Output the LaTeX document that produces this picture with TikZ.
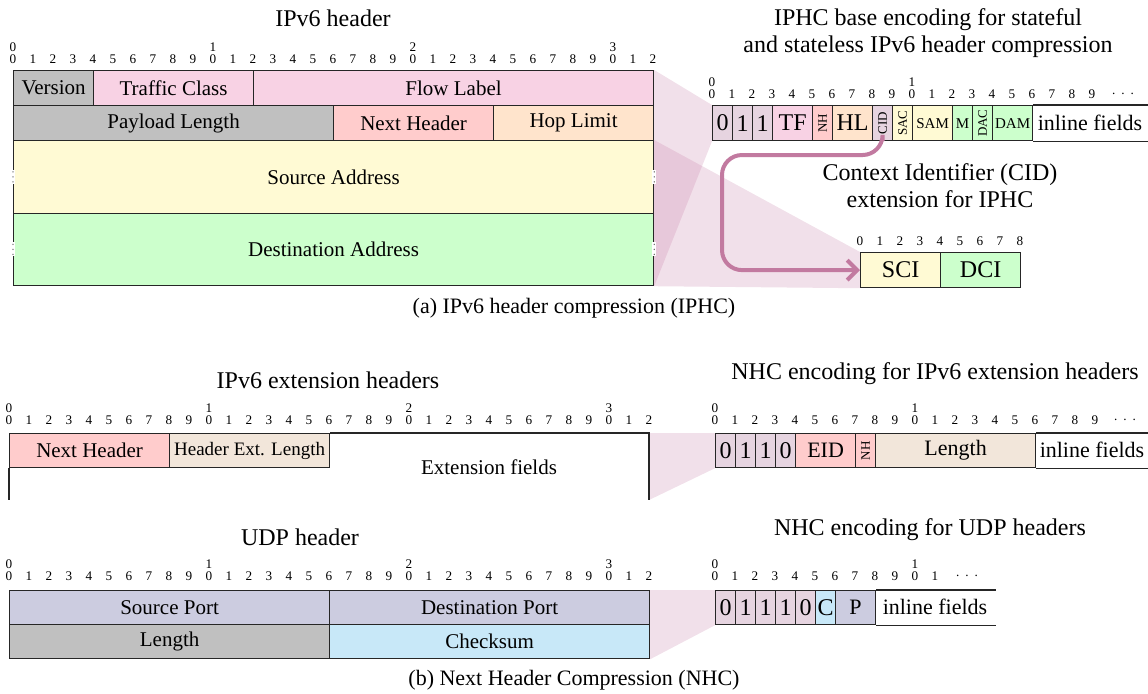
\documentclass[tikz,border=0pt]{standalone}
\usepackage{fontspec}
\setmainfont{Liberation Serif}
\usetikzlibrary{arrows.meta,calc,backgrounds}
\definecolor{cgray}{RGB}{192,192,192}
\definecolor{cpink}{RGB}{248,210,228}
\definecolor{csalmon}{RGB}{255,204,204}
\definecolor{cpeach}{RGB}{255,228,204}
\definecolor{cyellow}{RGB}{255,250,212}
\definecolor{cgreen}{RGB}{204,255,204}
\definecolor{cmauve}{RGB}{230,212,224}
\definecolor{cbeige}{RGB}{242,230,218}
\definecolor{clav}{RGB}{204,204,224}
\definecolor{cblue}{RGB}{200,232,248}
\definecolor{cproj}{RGB}{200,130,170}
\definecolor{carrow}{RGB}{194,122,160}
\newcommand\rotfont{\fontsize{6.5}{7}\selectfont}
\newcommand\smallfld{\fontsize{7.5}{8}\selectfont}
\newcommand\bigfld{\fontsize{12}{14}\selectfont}
\newcommand\rotlbl[1]{\rotatebox{90}{\rotfont #1}}
\tikzset{
  frame/.style={draw=black!85, line width=0.6pt},
  fieldbox/.style={frame, inner sep=0pt, minimum height=17.5pt, anchor=north west, font=\fontsize{10.5}{12}\selectfont},
  rfield/.style={fieldbox, font=\fontsize{11}{13}\selectfont},
  fieldtext/.style={inner sep=0pt, font=\fontsize{10.5}{12}\selectfont},
  bitnum/.style={font=\fontsize{6.6}{7}\selectfont, inner sep=0pt},
  titletext/.style={font=\fontsize{12}{13.5}\selectfont, align=center, inner sep=0pt},
  captiontext/.style={font=\fontsize{11}{13}\selectfont, inner sep=0pt},
  proj/.style={fill=cproj, fill opacity=0.25, draw=none},
  cidarrow/.style={draw=carrow, line width=2pt, rounded corners=10pt, -{Straight Barb[length=5pt,width=10pt]}},
}
% #1 prefix, #2 x0, #3 y of units, #4 last index, #5 tens row (1/0)
\newcommand\bitnums[5]{%
  \foreach \i in {0,...,#4}{%
    \pgfmathtruncatemacro\bitd{mod(\i,10)}%
    \node[bitnum] (#1u\i) at ({#2+20*\i},#3) {\bitd};%
    \ifnum#5=1 \ifnum\bitd=0
      \pgfmathtruncatemacro\bitt{\i/10}%
      \node[bitnum] (#1t\i) at ({#2+20*\i},{#3-12}) {\bitt};%
    \fi\fi
  }}
\newcommand\bitdots[3]{\node[bitnum] (#1) at (#2,#3) {.\hspace{3pt}.\hspace{3pt}.};}
\begin{document}
\begin{tikzpicture}[x=0.5pt,y=-0.5pt]
\useasboundingbox (0,0) rectangle (1148,693);

% ================= (a) =================
\node[titletext] (t1) at (333,18) {IPv6 header};
\bitnums{h}{13}{59}{32}{1}
\node[fieldbox, fill=cgray, minimum width=40pt] (ver) at (13,70) {Version};
\node[fieldbox, fill=cpink, minimum width=80pt] (tc) at (93,70) {Traffic Class};
\node[fieldbox, fill=cpink, minimum width=200pt] (fl) at (253,70) {Flow Label};
\node[fieldbox, fill=cgray, minimum width=160pt] (pl) at (13,105) {Payload Length};
\node[fieldbox, fill=csalmon, minimum width=80pt] (nh) at (333,105) {Next Header};
\node[fieldbox, fill=cpeach, minimum width=80pt] (hl) at (493,105) {Hop Limit};
\node[fieldbox, fill=cyellow, minimum width=320pt, minimum height=36.25pt] (src) at (13,140) {Source Address};
\node[fieldbox, fill=cgreen, minimum width=320pt, minimum height=36.25pt] (dst) at (13,212.5) {Destination Address};
% broken side borders
\foreach \n in {src,dst}{
  \foreach \a in {west,east}{
    \fill[white] ($(\n.\a)+(-2,-7)$) rectangle ($(\n.\a)+(2,7)$);
    \foreach \d in {-5,0,5} \fill[black!60] ($(\n.\a)+(0,\d)$) circle (0.7);
  }
}

\node[titletext] (t2) at (928,33) {IPHC base encoding for stateful\\and stateless IPv6 header compression};
\bitnums{i}{712}{94}{19}{1}
\bitdots{idots}{1123}{94}
\node[rfield, fill=cmauve, minimum width=10pt, font=\bigfld] (i0) at (712,105) {0};
\node[rfield, fill=cmauve, minimum width=10pt, font=\bigfld] (i1) at (732,105) {1};
\node[rfield, fill=cmauve, minimum width=10pt, font=\bigfld] (i2) at (752,105) {1};
\node[rfield, fill=cpink, minimum width=20pt, font=\bigfld] (itf) at (772,105) {TF};
\node[rfield, fill=csalmon, minimum width=10pt] (inh) at (812,105) {\rotlbl{NH}};
\node[rfield, fill=cpeach, minimum width=20pt, font=\bigfld] (ihl) at (832,105) {HL};
\node[rfield, fill=cmauve, minimum width=10pt] (icid) at (872,105) {\rotlbl{CID}};
\node[rfield, fill=cyellow, minimum width=10pt] (isac) at (892,105) {\rotlbl{SAC}};
\node[rfield, fill=cyellow, minimum width=20pt] (isam) at (912,105) {\smallfld SAM};
\node[rfield, fill=cgreen, minimum width=10pt] (im) at (952,105) {\smallfld M};
\node[rfield, fill=cgreen, minimum width=10pt] (idac) at (972,105) {\rotlbl{DAC}};
\node[rfield, fill=cgreen, minimum width=20pt] (idam) at (992,105) {\smallfld DAM};
\draw[frame] (idam.north east) -- ++(140,0);
\draw[frame] (idam.south east) -- ++(140,0);
\node[fieldtext, font=\fontsize{11}{13}\selectfont] (iinl) at (1090,122.5) {inline fields};

\node[titletext] (t3) at (940,186) {Context Identifier (CID)\\extension for IPHC};
\bitnums{c}{860}{241}{8}{0}
\node[rfield, fill=cyellow, minimum width=40pt, font=\bigfld] (sci) at (860,252) {SCI};
\node[rfield, fill=cgreen, minimum width=40pt, font=\bigfld] (dci) at (940,252) {DCI};

\draw[cidarrow] (icid.south) |- (722,155) |- (sci.west);

\node[captiontext] (capa) at (574,308) {(a) IPv6 header compression (IPHC)};

% ================= (b) =================
\node[titletext] (t4) at (328,380) {IPv6 extension headers};
\bitnums{e}{9}{420}{32}{1}
\node[fieldbox, fill=csalmon, minimum width=80pt, minimum height=17pt] (enh) at (9,433) {Next Header};
\node[fieldbox, fill=cbeige, minimum width=80pt, minimum height=17pt, font=\fontsize{9.5}{11}\selectfont] (ehel) at (169,433) {Header Ext. Length};
\coordinate (etr) at (649,433);
\coordinate (ebr) at (649,500);
\coordinate (ebl) at (9,500);
\draw[frame] (ehel.north east) -- (etr) -- (ebr);
\draw[frame] (enh.south west) -- (ebl);
\node[fieldtext] (efl) at (489,467) {Extension fields};

\node[titletext] (t5) at (935,374) {NHC encoding for IPv6 extension headers};
\bitnums{n}{715}{420}{19}{1}
\bitdots{ndots}{1125}{420}
\node[rfield, fill=cmauve, minimum width=10pt, minimum height=17pt, font=\bigfld] (n0) at (715,433) {0};
\node[rfield, fill=cmauve, minimum width=10pt, minimum height=17pt, font=\bigfld] (n1) at (735,433) {1};
\node[rfield, fill=cmauve, minimum width=10pt, minimum height=17pt, font=\bigfld] (n2) at (755,433) {1};
\node[rfield, fill=cmauve, minimum width=10pt, minimum height=17pt, font=\bigfld] (n3) at (775,433) {0};
\node[rfield, fill=csalmon, minimum width=30pt, minimum height=17pt] (neid) at (795,433) {EID};
\node[rfield, fill=csalmon, minimum width=10pt, minimum height=17pt] (nnh) at (855,433) {\rotlbl{NH}};
\node[rfield, fill=cbeige, minimum width=80pt, minimum height=17pt] (nlen) at (875,433) {Length};
\draw[frame] (nlen.north east) -- ++(140,0);
\draw[frame] (nlen.south east) -- ++(140,0);
\node[fieldtext, font=\fontsize{11}{13}\selectfont] (ninl) at (1092,450) {inline fields};

\node[titletext] (t6) at (300,537) {UDP header};
\bitnums{u}{9}{576}{32}{1}
\node[fieldbox, fill=clav, minimum width=160pt, minimum height=17pt] (sp) at (9,590) {Source Port};
\node[fieldbox, fill=clav, minimum width=160pt, minimum height=17pt] (dp) at (329,590) {Destination Port};
\node[fieldbox, fill=cgray, minimum width=160pt, minimum height=17pt] (ul) at (9,624) {Length};
\node[fieldbox, fill=cblue, minimum width=160pt, minimum height=17pt] (cs) at (329,624) {Checksum};

\node[titletext] (t7) at (930,530) {NHC encoding for UDP headers};
\bitnums{p}{715}{576}{11}{1}
\bitdots{pdots}{967}{576}
\node[rfield, fill=cmauve, minimum width=10pt, minimum height=17pt, font=\bigfld] (p0) at (715,590) {0};
\node[rfield, fill=cmauve, minimum width=10pt, minimum height=17pt, font=\bigfld] (p1) at (735,590) {1};
\node[rfield, fill=cmauve, minimum width=10pt, minimum height=17pt, font=\bigfld] (p2) at (755,590) {1};
\node[rfield, fill=cmauve, minimum width=10pt, minimum height=17pt, font=\bigfld] (p3) at (775,590) {1};
\node[rfield, fill=cmauve, minimum width=10pt, minimum height=17pt, font=\bigfld] (p4) at (795,590) {0};
\node[rfield, fill=cblue, minimum width=10pt, minimum height=17pt, font=\bigfld] (pc) at (815,590) {C};
\node[rfield, fill=clav, minimum width=20pt, minimum height=17pt] (pp) at (835,590) {P};
\draw[frame] (pp.north east) -- ++(120,0);
\draw[frame] (pp.south east) -- ++(120,0);
\node[fieldtext, font=\fontsize{11}{13}\selectfont] (pinl) at (935,607) {inline fields};

\node[captiontext] (capb) at (574,680) {(b) Next Header Compression (NHC)};

% ================= projections =================
\begin{scope}[on background layer]
  \fill[proj] (fl.north east) -- (i0.north west) -- (i0.south west) -- (dst.south east) -- cycle;
  \fill[proj] (src.north east) -- (sci.north west) -- (sci.south west) -- (dst.south east) -- cycle;
  \fill[proj] (etr) -- (n0.north west) -- (n0.south west) -- (ebr) -- cycle;
  \fill[proj] (dp.north east) -- (p0.north west) -- (p0.south west) -- (cs.south east) -- cycle;
\end{scope}
\end{tikzpicture}
\end{document}
